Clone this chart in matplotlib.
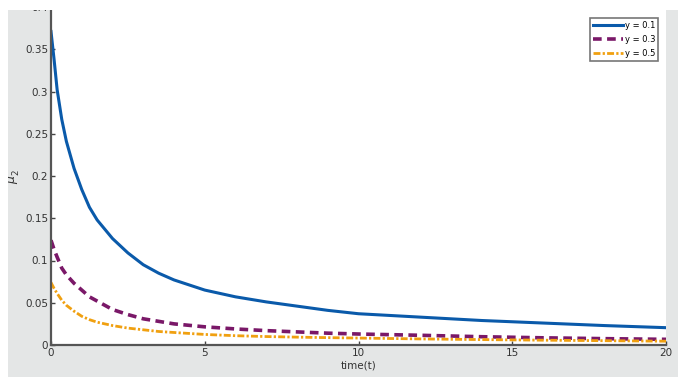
import numpy as np
import matplotlib
matplotlib.use("Agg")
import matplotlib.pyplot as plt
from matplotlib.patches import Rectangle

# sampled decay curves of mu_2* over time for three y values
t = [0, 0.1, 0.2, 0.35, 0.5, 0.75, 1, 1.25, 1.5, 2, 2.5, 3, 3.5, 4, 5, 6, 7,
     8, 9, 10, 12, 14, 16, 18, 20]
mu_y01 = [0.371, 0.338, 0.302, 0.267, 0.241, 0.209, 0.184, 0.163, 0.148, 0.126,
          0.109, 0.095, 0.085, 0.077, 0.065, 0.057, 0.051, 0.046, 0.041, 0.037,
          0.033, 0.029, 0.026, 0.023, 0.0205]
mu_y03 = [0.124, 0.113, 0.104, 0.091, 0.083, 0.073, 0.065, 0.057, 0.052, 0.042,
          0.036, 0.031, 0.028, 0.025, 0.0215, 0.019, 0.017, 0.0155, 0.014, 0.013,
          0.0115, 0.0098, 0.0085, 0.0075, 0.0067]
mu_y05 = [0.074, 0.067, 0.061, 0.053, 0.047, 0.040, 0.034, 0.030, 0.027, 0.023,
          0.020, 0.018, 0.016, 0.0148, 0.0125, 0.011, 0.010, 0.0093, 0.0087,
          0.0082, 0.0072, 0.0064, 0.0057, 0.0051, 0.0045]
labels = ["y = 0.1", "y = 0.3", "y = 0.5"]

xticks = [0, 5, 10, 15, 20]
yticks = [0, 0.05, 0.1, 0.15, 0.2, 0.25, 0.3, 0.35, 0.4]
ytick_labels = ["0", "0.05", "0.1", "0.15", "0.2", "0.25", "0.3", "0.35", "0.4"]

fig = plt.figure(figsize=(6.78, 3.79), dpi=100)
fig.patch.set_facecolor("#e4e6e6")

ax = fig.add_axes([51 / 678, 1 - 345 / 379, 615 / 678, 338 / 379])
ax.set_facecolor("white")

ax.plot(t, mu_y01, color="#0a5aaa", lw=2.2, label=labels[0])
ax.plot(t, mu_y03, color="#7a1868", lw=2.6, ls=(0, (2.4, 1.5)),
        dash_capstyle="butt", label=labels[1])
ax.plot(t, mu_y05, color="#f0a010", lw=2.0, ls=(0, (2.5, 0.8, 0.8, 0.8)),
        label=labels[2])

ax.set_xlim(0, 20)
ax.set_ylim(0, 0.4)
ax.set_xticks(xticks)
ax.set_yticks(yticks)
ax.set_yticklabels(ytick_labels)
ax.tick_params(direction="in", length=3, width=1, colors="#444444",
               labelsize=7.5, labelcolor="#333333", pad=2)
for side in ("top", "right"):
    ax.spines[side].set_visible(False)
for side in ("left", "bottom"):
    ax.spines[side].set_color("#555555")
    ax.spines[side].set_linewidth(1.6)

ax.set_xlabel("time(t)", fontsize=7.5, color="#333333", labelpad=2)
ax.set_ylabel(r"$\mu_2^*$", fontsize=9, color="#333333")
ax.yaxis.set_label_coords(-0.045, 0.5)

leg = ax.legend(loc="upper right", bbox_to_anchor=(0.987, 0.968), fontsize=6,
                frameon=True, fancybox=False, handlelength=3.6, handletextpad=0.15,
                borderpad=0.35, labelspacing=0.6, borderaxespad=0.0)
leg.get_frame().set_edgecolor("#555555")
leg.get_frame().set_linewidth(1.2)

# white margins around the grey panel
for (x0, y0, w, h) in [(0, 0, 8 / 678, 1), (0, 1 - 10 / 379, 1, 10 / 379),
                       (0, 0, 1, 2 / 379)]:
    fig.patches.append(Rectangle((x0, y0), w, h, transform=fig.transFigure,
                                 facecolor="white", edgecolor="none", zorder=10))

fig.savefig("out.png", dpi=100)
